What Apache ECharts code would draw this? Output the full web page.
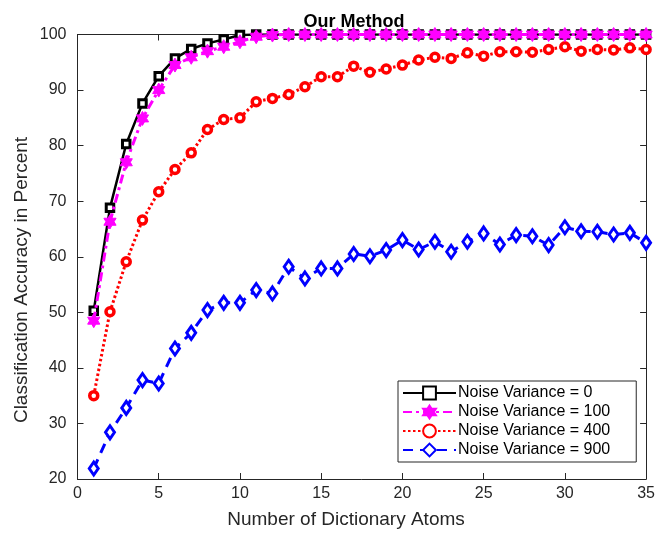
<!DOCTYPE html>
<html>
<head>
<meta charset="utf-8">
<script src="https://cdn.jsdelivr.net/npm/echarts@6/dist/echarts.min.js"></script>
<style>
  html, body { margin: 0; padding: 0; background: #fff; }
  #chart { width: 658px; height: 536px; }
</style>
</head>
<body>
<div id="chart"></div>
<script>
// Number of dictionary atoms (x values)
const atoms = [1,2,3,4,5,6,7,8,9,10,11,12,13,14,15,16,17,18,19,20,21,22,23,24,25,26,27,28,29,30,31,32,33,34,35];

// Classification accuracy (%) for each noise variance
const accVar0 = [50.3,68.8,80.3,87.6,92.5,95.7,97.4,98.4,99.1,99.9,100,100,100,100,100,100,100,100,100,100,100,100,100,100,100,100,100,100,100,100,100,100,100,100,100];
const accVar100 = [48.5,66.3,77.0,84.9,90.0,94.5,95.9,97.0,97.8,98.7,99.6,99.9,100,100,100,100,100,100,100,100,100,100,100,100,100,100,100,100,100,100,100,100,100,100,100];
const accVar400 = [35.0,50.1,59.1,66.6,71.7,75.7,78.7,82.9,84.7,85.0,87.9,88.5,89.2,90.6,92.4,92.4,94.3,93.2,93.8,94.5,95.4,95.9,95.7,96.7,96.1,96.9,96.9,96.8,97.3,97.8,97.0,97.3,97.2,97.6,97.3];
const accVar900 = [21.9,28.4,32.8,37.8,37.2,43.5,46.3,50.4,51.7,51.7,54.0,53.4,58.2,56.1,57.9,57.9,60.5,60.1,61.2,63.0,61.3,62.7,60.9,62.7,64.2,62.2,63.9,63.7,62.1,65.3,64.6,64.5,64.0,64.3,62.5];

const seriesNames = ['Noise Variance = 0','Noise Variance = 100','Noise Variance = 400','Noise Variance = 900'];
const xTitle = 'Number of Dictionary Atoms';
const yTitle = 'Classification Accuracy in Percent';

const pairs = (ys) => atoms.map((x, i) => [x, ys[i]]);

// six-pointed star marker
const hexagram = 'path://M87 0 L116 50 L174 50 L145 100 L174 150 L116 150 L87 200 L58 150 L0 150 L29 100 L0 50 L58 50 Z';

const axisColor = '#262626';
const font = 'Liberation Sans, Arial, Helvetica, sans-serif';

const chart = echarts.init(document.getElementById('chart'), null, { renderer: 'canvas' });

chart.setOption({
  animation: false,
  backgroundColor: '#fff',
  textStyle: { fontFamily: font },
  title: {
    text: 'Our Method',
    left: 349, top: 8, textAlign: 'center',
    textStyle: { fontSize: 18, fontWeight: 'bold', color: '#000', fontFamily: font }
  },
  graphic: [{
    type: 'text', x: 346, y: 510,
    style: { text: xTitle, fontSize: 19, fill: axisColor, fontFamily: font, align: 'center', verticalAlign: 'top' }
  }, {
    type: 'text', x: 12, y: 280, rotation: Math.PI / 2,
    style: { text: yTitle, fontSize: 19, fill: axisColor, fontFamily: font, align: 'center', verticalAlign: 'top' }
  }],
  grid: { left: 77.5, right: 11, top: 34.5, bottom: 57, containLabel: false },
  xAxis: [{
    type: 'value', min: 0, max: 35, interval: 5,
    axisLine: { show: true, lineStyle: { color: axisColor, width: 1 } },
    axisTick: { show: true, inside: true, length: 6, lineStyle: { color: axisColor } },
    axisLabel: { fontSize: 16, color: axisColor, margin: 7, fontFamily: font },
    splitLine: { show: false }
  }, {
    type: 'value', position: 'top', min: 0, max: 35, interval: 5,
    axisLine: { show: true, onZero: false, lineStyle: { color: axisColor, width: 1 } },
    axisTick: { show: true, inside: true, length: 6, lineStyle: { color: axisColor } },
    axisLabel: { show: false }, splitLine: { show: false }
  }],
  yAxis: [{
    type: 'value', min: 20, max: 100, interval: 10,
    axisLine: { show: true, lineStyle: { color: axisColor, width: 1 } },
    axisTick: { show: true, inside: true, length: 6, lineStyle: { color: axisColor } },
    axisLabel: { fontSize: 16, color: axisColor, margin: 11, fontFamily: font },
    splitLine: { show: false }
  }, {
    type: 'value', position: 'right', min: 20, max: 100, interval: 10,
    axisLine: { show: true, onZero: false, lineStyle: { color: axisColor, width: 1 } },
    axisTick: { show: true, inside: true, length: 6, lineStyle: { color: axisColor } },
    axisLabel: { show: false }, splitLine: { show: false }
  }],
  legend: {
    orient: 'vertical', left: 398, top: 381,
    padding: [4, 26, 4, 4], itemGap: 3, itemWidth: 53, itemHeight: 16,
    backgroundColor: '#fff', borderColor: axisColor, borderWidth: 1, borderRadius: 0,
    textStyle: { fontSize: 16, color: '#000', fontFamily: font, padding: [0, 0, 0, -3] },
    data: seriesNames
  },
  series: [{
    name: seriesNames[3], type: 'line', data: pairs(accVar900),
    symbol: 'diamond', symbolSize: [9, 13], z: 2,
    lineStyle: { color: '#0000ff', width: 3, type: [10, 7] },
    itemStyle: { color: '#fff', borderColor: '#0000ff', borderWidth: 3 }
  }, {
    name: seriesNames[2], type: 'line', data: pairs(accVar400),
    symbol: 'circle', symbolSize: 8, z: 3,
    lineStyle: { color: '#ff0000', width: 3, type: [2.5, 2.5] },
    itemStyle: { color: '#fff', borderColor: '#ff0000', borderWidth: 3.5 }
  }, {
    name: seriesNames[0], type: 'line', data: pairs(accVar0),
    symbol: 'rect', symbolSize: 7.5, z: 4,
    lineStyle: { color: '#000', width: 2.5, type: 'solid' },
    itemStyle: { color: '#fff', borderColor: '#000', borderWidth: 3 }
  }, {
    name: seriesNames[1], type: 'line', data: pairs(accVar100),
    symbol: hexagram, symbolSize: 14, symbolKeepAspect: true, z: 5,
    lineStyle: { color: '#ff00ff', width: 3, type: [9, 4, 3, 4] },
    itemStyle: { color: '#ff00ff', borderColor: '#ff00ff', borderWidth: 1 }
  }]
});
</script>
</body>
</html>
